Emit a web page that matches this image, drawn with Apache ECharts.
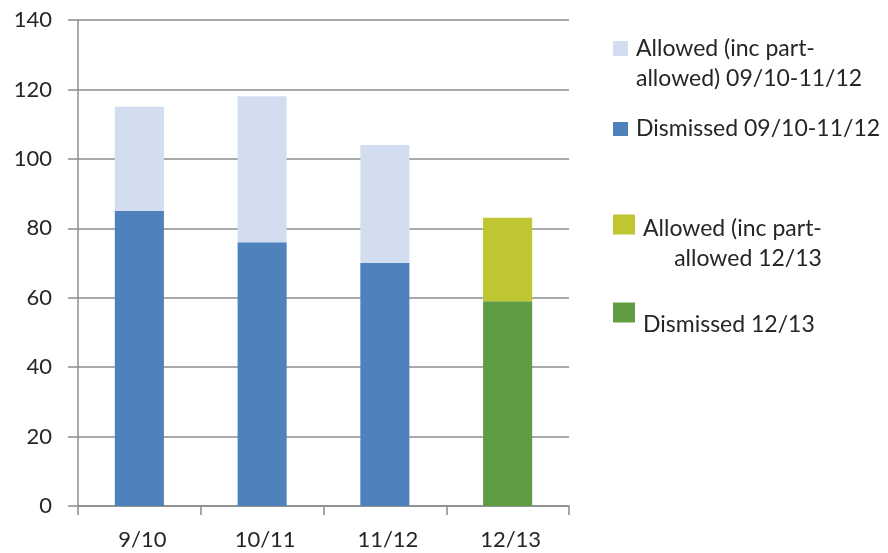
<!DOCTYPE html>
<html>
<head>
<meta charset="utf-8">
<script src="https://cdn.jsdelivr.net/npm/echarts@6/dist/echarts.min.js"></script>
<style>
  html, body { margin: 0; padding: 0; background: #fff; }
  #chart { width: 888px; height: 553px; }
</style>
</head>
<body>
<div id="chart"></div>
<script>
// Appeals outcomes by year
const categories = ['9/10', '10/11', '11/12', '12/13'];
const dismissedEarly = [85, 76, 70, null];
const allowedEarly = [30, 42, 34, null];
const dismissedLatest = [null, null, null, 59];
const allowedLatest = [null, null, null, 24];
const yTicks = [0, 20, 40, 60, 80, 100, 120, 140];

const names = {
  allowedEarly: 'Allowed (inc part-allowed) 09/10-11/12',
  dismissedEarly: 'Dismissed 09/10-11/12',
  allowedLatest: 'Allowed (inc part-allowed 12/13',
  dismissedLatest: 'Dismissed 12/13'
};

const FONT = 'Lato';
const TEXT = '#262626';
const GRID = '#8c8c8c';
const LEGEND_SIZE = 23;
const LINE_H = 30;

const base = { fontFamily: FONT, fontSize: LEGEND_SIZE, color: TEXT, lineHeight: LINE_H };

// One legend block per entry; topPad shifts the text block relative to its swatch
function legendBox(name, left, top, w, h, topPad, formatter, rich) {
  return {
    data: [name],
    left: left,
    top: top,
    orient: 'vertical',
    itemWidth: w,
    itemHeight: h,
    itemGap: 0,
    padding: 0,
    selectedMode: false,
    icon: 'rect',
    formatter: formatter,
    textStyle: Object.assign({}, base, {
      padding: [topPad, 0, 0, 3],
      rich: rich
    })
  };
}

const chart = echarts.init(document.getElementById('chart'));
chart.setOption({
  animation: false,
  grid: { left: 78, right: 319, top: 20, bottom: 47 },
  xAxis: {
    type: 'category',
    data: categories,
    axisLine: { lineStyle: { color: GRID, width: 1.5 } },
    axisTick: { show: true, length: 9, lineStyle: { color: GRID, width: 1.5 } },
    axisLabel: { fontFamily: FONT, fontSize: 22, color: TEXT, margin: 23, padding: [0, 0, 0, 6] }
  },
  yAxis: {
    type: 'value',
    min: yTicks[0],
    max: yTicks[yTicks.length - 1],
    interval: 20,
    axisLine: { show: true, lineStyle: { color: GRID, width: 1.5 } },
    axisTick: { show: true, inside: false, length: 10, lineStyle: { color: GRID, width: 1.5 } },
    splitLine: { lineStyle: { color: GRID, width: 1.5 } },
    axisLabel: { fontFamily: FONT, fontSize: 22, color: TEXT, margin: 26 }
  },
  legend: [
    legendBox(names.allowedEarly, 613, 3, 15, 15, 31,
      () => '{a|Allowed (inc part-}\n{a|allowed) 09/10-11/12}',
      { a: base }),
    legendBox(names.dismissedEarly, 613, 114, 15, 14, 0,
      () => '{a|Dismissed 09/10-11/12}',
      { a: base }),
    legendBox(names.allowedLatest, 613, 175, 22, 20, 39,
      () => '{a|Allowed (inc part-}\n{b|allowed 12/13}',
      { a: base, b: Object.assign({}, base, { align: 'right' }) }),
    legendBox(names.dismissedLatest, 613, 285, 22, 20, 25,
      () => '{a|Dismissed 12/13}',
      { a: base })
  ],
  series: [
    {
      name: names.dismissedEarly, type: 'bar', stack: 'total', barWidth: '40%',
      itemStyle: { color: '#4f81bd' }, data: dismissedEarly
    },
    {
      name: names.allowedEarly, type: 'bar', stack: 'total', barWidth: '40%',
      itemStyle: { color: '#d2deef' }, data: allowedEarly
    },
    {
      name: names.dismissedLatest, type: 'bar', stack: 'total', barWidth: '40%',
      itemStyle: { color: '#609d42' }, data: dismissedLatest
    },
    {
      name: names.allowedLatest, type: 'bar', stack: 'total', barWidth: '40%',
      itemStyle: { color: '#c0c532' }, data: allowedLatest
    }
  ]
});
</script>
</body>
</html>
